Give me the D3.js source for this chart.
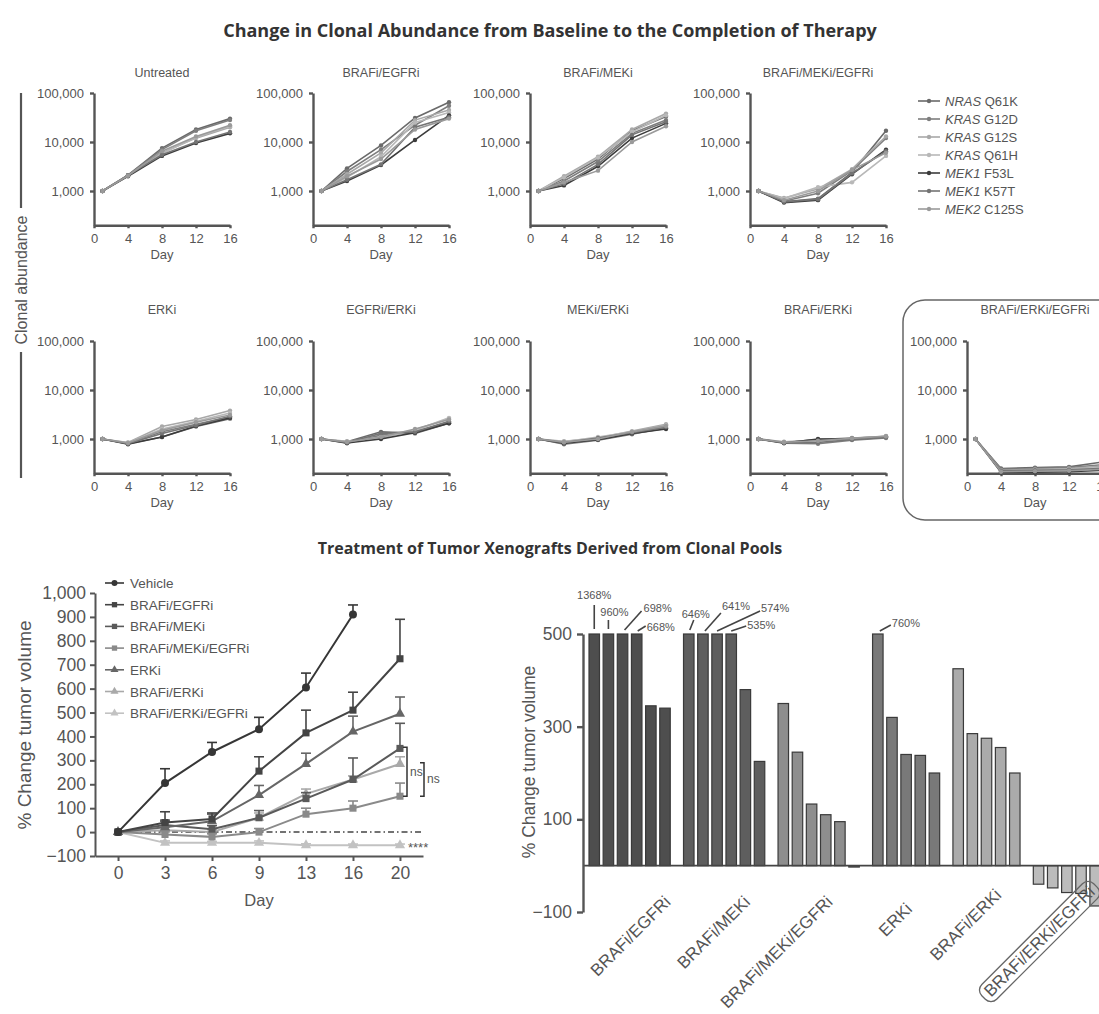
<!DOCTYPE html>
<html><head><meta charset="utf-8">
<script src="https://cdn.jsdelivr.net/npm/d3@7"></script>
<style>
body{margin:0;background:#fff;}
svg text{font-family:"Liberation Sans",Arial,sans-serif;}
</style></head><body>
<svg id="chart" width="1099" height="1014"></svg>
<script>
// ---------------- DATA ----------------
const clonalDays = [1, 4, 8, 12, 16];
const cloneGenes = ["NRAS", "KRAS", "KRAS", "KRAS", "MEK1", "MEK1", "MEK2"];
const cloneMutations = ["Q61K", "G12D", "G12S", "Q61H", "F53L", "K57T", "C125S"];
const clonalTicks = [1000, 10000, 100000];
const clonalDayTicks = [0, 4, 8, 12, 16];
const treatments = ["Untreated", "BRAFi/EGFRi", "BRAFi/MEKi", "BRAFi/MEKi/EGFRi",
  "ERKi", "EGFRi/ERKi", "MEKi/ERKi", "BRAFi/ERKi", "BRAFi/ERKi/EGFRi"];

const abundUntreated = [
  [1000, 2100, 7500, 18000, 30000], [1000, 2100, 7000, 17000, 28000], [1000, 2050, 6000, 12000, 20000],
  [1000, 2050, 5800, 12500, 21000], [1000, 2000, 5200, 9500, 15000], [1000, 2100, 5500, 10000, 16000],
  [1000, 2050, 6500, 13000, 22000]];
const abundBrafEgfr = [
  [1000, 2900, 8500, 31000, 65000], [1000, 2500, 7000, 22000, 55000], [1000, 2200, 6000, 28000, 45000],
  [1000, 1900, 5000, 25000, 40000], [1000, 1600, 3400, 11000, 35000], [1000, 1700, 3500, 20000, 32000],
  [1000, 2000, 4500, 18000, 30000]];
const abundBrafMek = [
  [1000, 1800, 4500, 17000, 33000], [1000, 1600, 4000, 15000, 28000], [1000, 2000, 5000, 18000, 38000],
  [1000, 1900, 4800, 16000, 35000], [1000, 1300, 3200, 12000, 24000], [1000, 1400, 3500, 14000, 26000],
  [1000, 1500, 2600, 10000, 21000]];
const abundBrafMekEgfr = [
  [1000, 600, 700, 2400, 17000], [1000, 620, 900, 2600, 12000], [1000, 720, 1100, 2800, 13000],
  [1000, 700, 1200, 1500, 5200], [1000, 580, 650, 2200, 7000], [1000, 600, 680, 2300, 6500],
  [1000, 650, 1000, 2700, 6000]];
const abundErk = [
  [1000, 800, 1100, 1800, 2600], [1000, 820, 1400, 2000, 2800], [1000, 850, 1800, 2500, 3800],
  [1000, 840, 1600, 2300, 3400], [1000, 780, 1100, 1850, 2700], [1000, 800, 1300, 1900, 2900],
  [1000, 830, 1500, 2200, 3100]];
const abundEgfrErk = [
  [1000, 880, 1400, 1300, 2100], [1000, 820, 1200, 1400, 2200], [1000, 900, 1050, 1550, 2600],
  [1000, 880, 1100, 1500, 2700], [1000, 830, 1000, 1350, 2100], [1000, 850, 1300, 1400, 2300],
  [1000, 870, 1100, 1600, 2500]];
const abundMekErk = [
  [1000, 800, 1000, 1300, 1650], [1000, 780, 950, 1250, 1700], [1000, 900, 1050, 1450, 2000],
  [1000, 880, 1100, 1400, 1900], [1000, 820, 970, 1300, 1600], [1000, 850, 1050, 1350, 1750],
  [1000, 860, 1000, 1400, 1850]];
const abundBrafErk = [
  [1000, 850, 980, 1050, 1120], [1000, 820, 800, 950, 1050], [1000, 880, 950, 1020, 1150],
  [1000, 870, 900, 1000, 1100], [1000, 830, 1000, 1000, 1100], [1000, 840, 850, 980, 1080],
  [1000, 860, 920, 1030, 1140]];
const abundBrafErkEgfr = [
  [1000, 250, 260, 270, 340], [1000, 240, 250, 260, 300], [1000, 230, 240, 250, 280],
  [1000, 220, 230, 240, 260], [1000, 210, 210, 215, 230], [1000, 225, 230, 235, 250],
  [1000, 215, 220, 225, 240]];

const xenoDays = ["0", "3", "6", "9", "13", "16", "20"];
const xenoGroups = ["Vehicle", "BRAFi/EGFRi", "BRAFi/MEKi", "BRAFi/MEKi/EGFRi", "ERKi", "BRAFi/ERKi", "BRAFi/ERKi/EGFRi"];
const xenoTicks = [-100, 0, 100, 200, 300, 400, 500, 600, 700, 800, 900, 1000];
const meanVehicle = [0, 205, 335, 430, 605, 910, null];
const errVehicle = [0, 60, 40, 50, 60, 40, null];
const meanBrafEgfr = [0, 40, 55, 255, 415, 510, 725];
const errBrafEgfr = [0, 45, 25, 60, 95, 75, 165];
const meanBrafMek = [0, 30, 12, 60, 140, 220, 350];
const errBrafMek = [0, 20, 15, 30, 25, 90, 105];
const meanBrafMekEgfr = [0, -10, -20, 0, 75, 100, 150];
const errBrafMekEgfr = [0, 15, 15, 15, 25, 30, 55];
const meanErk = [0, 20, 45, 155, 285, 420, 495];
const errErk = [0, 25, 30, 40, 45, 65, 70];
const meanBrafErk = [0, 8, 0, 60, 160, 220, 285];
const errBrafErk = [0, 12, 10, 20, 20, 15, 30];
const meanBrafErkEgfr = [0, -45, -45, -45, -55, -55, -55];
const errBrafErkEgfr = [0, 8, 6, 8, 6, 5, 5];

const waterfallGroups = ["BRAFi/EGFRi", "BRAFi/MEKi", "BRAFi/MEKi/EGFRi", "ERKi", "BRAFi/ERKi", "BRAFi/ERKi/EGFRi"];
const wfBrafEgfr = [1368, 960, 698, 668, 345, 340];
const wfBrafMek = [646, 641, 574, 535, 380, 225];
const wfBrafMekEgfr = [350, 245, 133, 110, 95, -3];
const wfErk = [760, 320, 240, 238, 200];
const wfBrafErk = [425, 285, 275, 255, 200];
const wfBrafErkEgfr = [-40, -48, -58, -60, -87];
const wfTicks = [-100, 100, 300, 500];
const wfCap = 500;

// ---------------- STYLE / LAYOUT ----------------
const cloneColors = ["#6a6a6a", "#7e7e7e", "#a8a8a8", "#b8b8b8", "#3c3c3c", "#747474", "#9a9a9a"];
const xenoColors = ["#363636", "#444444", "#5a5a5a", "#8a8a8a", "#666666", "#a9a9a9", "#c2c2c2"];
const xenoSymbols = [d3.symbolCircle, d3.symbolSquare, d3.symbolSquare, d3.symbolSquare, d3.symbolTriangle, d3.symbolTriangle, d3.symbolTriangle];
const wfFills = ["#4e4e4e", "#5e5e5e", "#8e8e8e", "#797979", "#ababab", "#bcbcbc"];
const wfLabelDx = [42, 27, 15, 7, 16, 29];
const wfLabelY = [898, 898, 898, 905, 891, 888];
const axisColor = "#555";
const textColor = "#555";

const svg = d3.select("#chart");
svg.append("rect").attr("width", 1099).attr("height", 1014).attr("fill", "#fff");

function styleAxis(g, width, fontSize) {
  g.select(".domain").attr("stroke", axisColor).attr("stroke-width", width);
  g.selectAll(".tick line").attr("stroke", axisColor).attr("stroke-width", width);
  g.selectAll(".tick text").attr("fill", textColor).attr("font-size", fontSize)
    .attr("font-family", "Liberation Sans, Arial, sans-serif");
}

// Section titles
svg.append("text").attr("x", 550).attr("y", 37).attr("text-anchor", "middle")
  .attr("font-size", 18).attr("font-weight", "bold").attr("fill", "#333")
  .style("font-family", "'Open Sans', sans-serif")
  .text("Change in Clonal Abundance from Baseline to the Completion of Therapy");
svg.append("text").attr("x", 550).attr("y", 554).attr("text-anchor", "middle")
  .attr("font-size", 16).attr("font-weight", "bold").attr("fill", "#333")
  .style("font-family", "'Open Sans', sans-serif")
  .text("Treatment of Tumor Xenografts Derived from Clonal Pools");

// ---------------- SMALL MULTIPLES ----------------
const panelData = [abundUntreated, abundBrafEgfr, abundBrafMek, abundBrafMekEgfr,
  abundErk, abundEgfrErk, abundMekErk, abundBrafErk, abundBrafErkEgfr];
const panelX = [94, 313, 530, 750, 94, 313, 530, 750, 967];
const panelY = [93, 93, 93, 93, 341, 341, 341, 341, 341];
const panelTitleOff = [16, 16, 16, 16, 27, 27, 27, 27, 27];
const panelW = 136, decade = 49;
const ySm = d3.scaleLog().domain([200, 100000]).range([decade * Math.log10(500), 0]);
const xSm = d3.scaleLinear().domain([0, 16]).range([0, panelW]);
const panelH = ySm(200);

treatments.forEach((t, pi) => {
  const g = svg.append("g").attr("transform", `translate(${panelX[pi]},${panelY[pi]})`);
  g.append("text").attr("x", panelW / 2).attr("y", -panelTitleOff[pi]).attr("text-anchor", "middle")
    .attr("font-size", 12.5).attr("fill", textColor).text(t);
  const ya = g.append("g").call(d3.axisLeft(ySm).tickValues(clonalTicks).tickFormat(d3.format(","))
    .tickSize(4).tickSizeOuter(0).tickPadding(6));
  styleAxis(ya, 2.4, 13);
  const xa = g.append("g").attr("transform", `translate(0,${panelH})`)
    .call(d3.axisBottom(xSm).tickValues(clonalDayTicks).tickSize(3).tickSizeOuter(0).tickPadding(6));
  styleAxis(xa, 2.4, 13);
  g.append("text").attr("x", panelW / 2).attr("y", panelH + 34).attr("text-anchor", "middle")
    .attr("font-size", 13).attr("fill", textColor).text("Day");
  const line = d3.line().x((d, i) => xSm(clonalDays[i])).y(d => ySm(d));
  panelData[pi].forEach((series, si) => {
    g.append("path").attr("d", line(series)).attr("fill", "none")
      .attr("stroke", cloneColors[si]).attr("stroke-width", 1.6);
    g.selectAll(null).data(series).enter().append("circle")
      .attr("cx", (d, i) => xSm(clonalDays[i])).attr("cy", d => ySm(d)).attr("r", 2.2)
      .attr("fill", cloneColors[si]);
  });
});

// boxed last panel
svg.append("rect").attr("x", 903).attr("y", 300).attr("width", 240).attr("height", 220)
  .attr("rx", 22).attr("fill", "none").attr("stroke", "#666").attr("stroke-width", 1.5);

// clone legend
cloneGenes.forEach((gene, i) => {
  const y = 101 + i * 18;
  svg.append("line").attr("x1", 918).attr("x2", 940).attr("y1", y).attr("y2", y)
    .attr("stroke", cloneColors[i]).attr("stroke-width", 1.6);
  svg.append("circle").attr("cx", 929).attr("cy", y).attr("r", 2.2).attr("fill", cloneColors[i]);
  const tx = svg.append("text").attr("x", 945).attr("y", y + 4.5).attr("font-size", 13).attr("fill", textColor);
  tx.append("tspan").attr("font-style", "italic").text(gene);
  tx.append("tspan").text(" " + cloneMutations[i]);
});

// Clonal abundance label
svg.append("text").attr("transform", "translate(27,280) rotate(-90)").attr("text-anchor", "middle")
  .attr("font-size", 16).attr("fill", textColor).text("Clonal abundance");
svg.append("line").attr("x1", 21).attr("x2", 21).attr("y1", 93).attr("y2", 208).attr("stroke", "#555").attr("stroke-width", 2.2);
svg.append("line").attr("x1", 21).attr("x2", 21).attr("y1", 352).attr("y2", 478).attr("stroke", "#555").attr("stroke-width", 2.2);

// ---------------- XENOGRAFT LINE CHART ----------------
const xL = d3.scalePoint().domain(xenoDays).range([95, 423]).padding(0.49);
const yL = d3.scaleLinear().domain([-100, 1000]).range([856, 593]);
const gL = svg.append("g");
const yaL = gL.append("g").attr("transform", "translate(95,0)")
  .call(d3.axisLeft(yL).tickValues(xenoTicks).tickFormat(d3.format(",")).tickSize(5).tickSizeOuter(0).tickPadding(4));
styleAxis(yaL, 2, 17.5);
const xaL = gL.append("g").attr("transform", "translate(0,856)")
  .call(d3.axisBottom(xL).tickSize(5).tickSizeOuter(0).tickPadding(6));
styleAxis(xaL, 2, 17.5);
gL.append("text").attr("x", xL("9")).attr("y", 906).attr("text-anchor", "middle")
  .attr("font-size", 16.5).attr("fill", textColor).text("Day");
gL.append("text").attr("transform", "translate(31,725) rotate(-90)").attr("text-anchor", "middle")
  .attr("font-size", 19).attr("fill", textColor).text("% Change tumor volume");
gL.append("line").attr("x1", xL("0")).attr("x2", 422).attr("y1", yL(0)).attr("y2", yL(0))
  .attr("stroke", "#444").attr("stroke-width", 1.5).attr("stroke-dasharray", "6,3,1.5,3");

const xenoMeans = [meanVehicle, meanBrafEgfr, meanBrafMek, meanBrafMekEgfr, meanErk, meanBrafErk, meanBrafErkEgfr];
const xenoErrs = [errVehicle, errBrafEgfr, errBrafMek, errBrafMekEgfr, errErk, errBrafErk, errBrafErkEgfr];
const drawOrder = [6, 5, 3, 2, 4, 1, 0];
drawOrder.forEach(k => {
  const pts = xenoMeans[k].map((v, i) => ({ day: xenoDays[i], v, e: xenoErrs[k][i] })).filter(d => d.v !== null);
  const col = xenoColors[k];
  pts.forEach(d => {
    if (d.e > 0) {
      gL.append("line").attr("x1", xL(d.day)).attr("x2", xL(d.day)).attr("y1", yL(d.v)).attr("y2", yL(d.v + d.e))
        .attr("stroke", col).attr("stroke-width", 1.6);
      gL.append("line").attr("x1", xL(d.day) - 5).attr("x2", xL(d.day) + 5).attr("y1", yL(d.v + d.e)).attr("y2", yL(d.v + d.e))
        .attr("stroke", col).attr("stroke-width", 1.6);
    }
  });
  gL.append("path").attr("d", d3.line().x(d => xL(d.day)).y(d => yL(d.v))(pts))
    .attr("fill", "none").attr("stroke", col).attr("stroke-width", 2);
  gL.selectAll(null).data(pts).enter().append("path")
    .attr("transform", d => `translate(${xL(d.day)},${yL(d.v)})`)
    .attr("d", d3.symbol().type(xenoSymbols[k]).size(xenoSymbols[k] === d3.symbolTriangle ? 45 : 50))
    .attr("fill", col);
});
// significance brackets
function bracket(x, v1, v2, label, tx) {
  gL.append("path").attr("d", `M${x - 4},${yL(v1)}H${x}V${yL(v2)}H${x - 4}`)
    .attr("fill", "none").attr("stroke", "#333").attr("stroke-width", 1.5);
  gL.append("text").attr("x", tx).attr("y", (yL(v1) + yL(v2)) / 2 + 4).attr("font-size", 12)
    .attr("fill", textColor).text(label);
}
bracket(407, 355, 150, "ns", 410);
bracket(424, 290, 150, "ns", 427);
gL.append("text").attr("x", 408).attr("y", yL(-55) + 7).attr("font-size", 13).attr("fill", textColor).text("****");

// legend
xenoGroups.forEach((name, k) => {
  const y = 583 + k * 21.7;
  gL.append("line").attr("x1", 105).attr("x2", 124).attr("y1", y).attr("y2", y)
    .attr("stroke", xenoColors[k]).attr("stroke-width", 1.6);
  gL.append("path").attr("transform", `translate(114.5,${y})`)
    .attr("d", d3.symbol().type(xenoSymbols[k]).size(28)).attr("fill", xenoColors[k]);
  gL.append("text").attr("x", 130).attr("y", y + 5).attr("font-size", 13.5).attr("fill", textColor).text(name);
});

// ---------------- WATERFALL ----------------
const wfData = [wfBrafEgfr, wfBrafMek, wfBrafMekEgfr, wfErk, wfBrafErk, wfBrafErkEgfr];
const yB = d3.scaleLinear().domain([-100, 500]).range([912, 634]);
const xB = d3.scaleLinear().domain([0, 1]).range([589, 603.15]);
const barW = 10.5, groupGap = 0.68;
const gB = svg.append("g");
const bars = [];
let idx = 0;
wfData.forEach((arr, g) => {
  arr.forEach(v => { bars.push({ g, v, slot: idx + g * groupGap }); idx++; });
});
gB.selectAll(null).data(bars).enter().append("rect")
  .attr("x", d => xB(d.slot)).attr("width", barW)
  .attr("y", d => yB(Math.max(0, Math.min(d.v, wfCap))))
  .attr("height", d => Math.abs(yB(Math.min(d.v, wfCap)) - yB(0)))
  .attr("fill", d => wfFills[d.g]).attr("stroke", "#3a3a3a").attr("stroke-width", 1.2);
gB.append("line").attr("x1", 583).attr("x2", 1099).attr("y1", yB(0)).attr("y2", yB(0))
  .attr("stroke", "#444").attr("stroke-width", 1.8);
const yaB = gB.append("g").attr("transform", "translate(583,0)")
  .call(d3.axisLeft(yB).tickValues(wfTicks).tickSize(6).tickSizeOuter(0).tickPadding(5));
styleAxis(yaB, 2.4, 17.5);
gB.append("text").attr("transform", "translate(535,762) rotate(-90)").attr("text-anchor", "middle")
  .attr("font-size", 17.5).attr("fill", textColor).text("% Change tumor volume");

// capped-bar annotations (leader offsets relative to bar top centre)
const leaderLayout = [
  [0, -5, 0, -29, 0, -35, "middle"], [0, -5, 0, -14, 6, -18, "middle"], [2, -4, 19, -23, 21, -22, "start"],
  [1, -3, 9, -8, 10, -3, "start"], [1, -4, 5, -14, 7, -16, "middle"], [2, -3, 18, -21, 19, -24, "start"],
  [0, -3, 43, -23, 44, -22, "start"], [0, -3, 15, -8, 16, -5, "start"], [2, -3, 13, -9, 14, -7, "start"]];
const capped = bars.filter(d => d.v > wfCap);
capped.forEach((d, i) => {
  const L = leaderLayout[i];
  const cx = xB(d.slot) + barW / 2, cy = yB(wfCap);
  gB.append("line").attr("x1", cx + L[0]).attr("y1", cy + L[1]).attr("x2", cx + L[2]).attr("y2", cy + L[3])
    .attr("stroke", "#444").attr("stroke-width", 1.6);
  gB.append("text").attr("x", cx + L[4]).attr("y", cy + L[5]).attr("text-anchor", L[6])
    .attr("font-size", 11).attr("fill", textColor).text(d.v + "%");
});

// category labels
waterfallGroups.forEach((name, g) => {
  const gb = bars.filter(d => d.g === g);
  const cx = (xB(gb[0].slot) + xB(gb[gb.length - 1].slot) + barW) / 2;
  const lg = gB.append("g").attr("transform", `translate(${cx + wfLabelDx[g]},${wfLabelY[g] + 5}) rotate(-45)`);
  const t = lg.append("text").attr("text-anchor", "end").attr("font-size", 17).attr("fill", textColor).text(name);
  if (g === waterfallGroups.length - 1) {
    const bb = t.node().getBBox();
    lg.append("rect").attr("x", bb.x - 5).attr("y", bb.y - 1).attr("width", bb.width + 10).attr("height", bb.height + 2)
      .attr("rx", 8).attr("fill", "none").attr("stroke", "#666").attr("stroke-width", 1.3);
  }
});
</script>
</body></html>
